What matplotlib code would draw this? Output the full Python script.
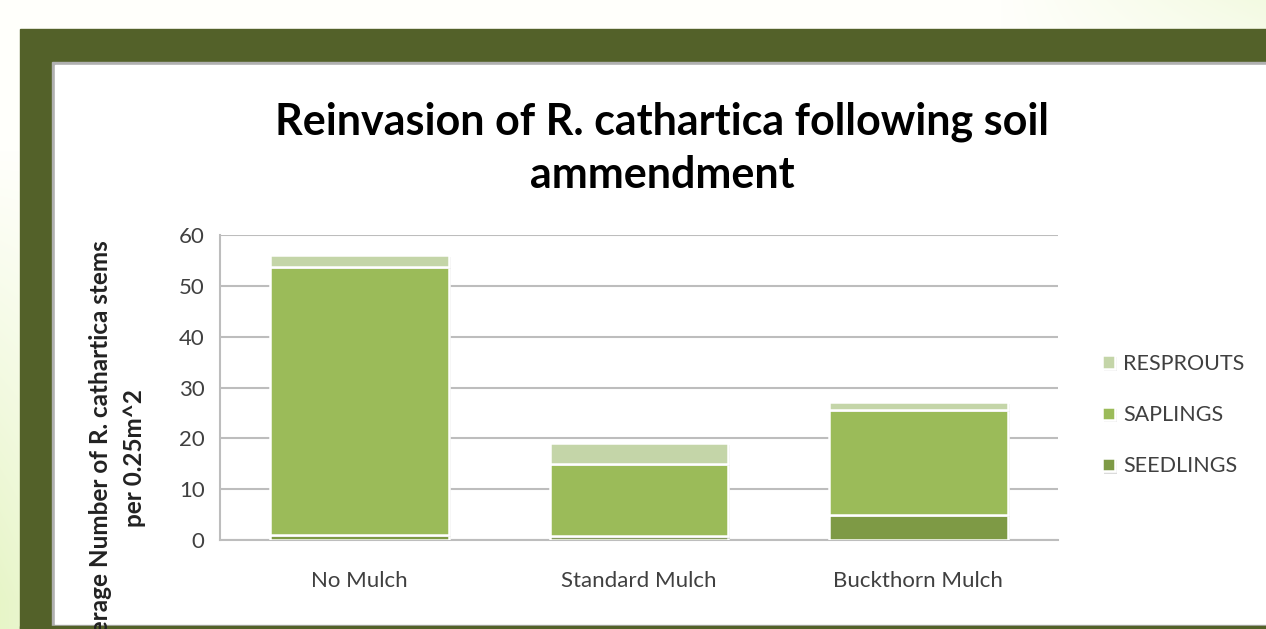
import numpy as np
import matplotlib
matplotlib.use("Agg")
import matplotlib.pyplot as plt
from matplotlib.patches import Rectangle
import matplotlib.patheffects as pe

# data
categories = ["No Mulch", "Standard Mulch", "Buckthorn Mulch"]
seedlings = [1.0, 0.7, 5.0]
saplings = [52.7, 14.3, 20.6]
resprouts = [2.3, 4.1, 1.6]
yticks = [0, 10, 20, 30, 40, 50, 60]

W, H = 1266, 629
plt.rcParams['font.family'] = ['Lato', 'DejaVu Sans']
fig = plt.figure(figsize=(W / 100, H / 100), dpi=100)

# slide background: pale cream with light green gradients
bg = fig.add_axes([0, 0, 1, 1])
bg.set_xlim(0, W)
bg.set_ylim(H, 0)
bg.axis('off')
yy, xx = np.mgrid[0:H, 0:W]
tl = np.clip((yy - 150) / 450.0, 0, 1) * np.clip(1 - xx / 200.0, 0, 1)
tr = np.clip((xx - 1000) / 266.0, 0, 1) * np.clip(1 - yy / 120.0, 0, 1) * 0.5
t = np.maximum(tl, tr)
c0 = np.array([1.0, 1.0, 0.985])
c1 = np.array([0.906, 0.961, 0.784])
img = c0[None, None, :] * (1 - t[..., None]) + c1[None, None, :] * t[..., None]
bg.imshow(img, extent=[0, W, H, 0], aspect='auto', zorder=0)
# dark olive frame and white panel
bg.add_patch(Rectangle((20, 29), W - 20, H - 29, color='#536129', zorder=1))
bg.add_patch(Rectangle((52, 62), W - 52, 564 - 1, color='#b0b0b0', zorder=2))
bg.add_patch(Rectangle((55, 65), W - 55, 560 - 1, color='white', zorder=3))

# chart area
ax = fig.add_axes([220 / W, 1 - 540 / H, (1058 - 220) / W, (540 - 235) / H])
ax.set_facecolor('none')
x = np.arange(len(categories))
width = 0.64
shadow = [pe.SimplePatchShadow(offset=(1.5, -1.5), shadow_rgbFace='#999999', alpha=0.35), pe.Normal()]

b1 = ax.bar(x, seedlings, width, color='#7e9a45', edgecolor='white', linewidth=1.8,
            label='SEEDLINGS', zorder=3)
b2 = ax.bar(x, saplings, width, bottom=seedlings, color='#9bbb59', edgecolor='white',
            linewidth=1.8, label='SAPLINGS', zorder=3)
bottom2 = [a + b for a, b in zip(seedlings, saplings)]
b3 = ax.bar(x, resprouts, width, bottom=bottom2, color='#c4d5a8', edgecolor='white',
            linewidth=1.8, label='RESPROUTS', zorder=3)
for bars in (b1, b2, b3):
    for p in bars:
        p.set_path_effects(shadow)

ax.set_xlim(-0.5, 2.5)
ax.set_ylim(0, 60)
ax.set_yticks(yticks)
ax.yaxis.grid(True, color='#bdbdbd', linewidth=1.5, zorder=0)
ax.set_axisbelow(True)
for s in ['top', 'right']:
    ax.spines[s].set_visible(False)
for s in ['left', 'bottom']:
    ax.spines[s].set_color('#bdbdbd')
    ax.spines[s].set_linewidth(1.5)
ax.tick_params(axis='both', length=0, colors='#404040', labelsize=16)
ax.tick_params(axis='y', pad=11)
ax.tick_params(axis='x', pad=22)
ax.set_xticks(x)
ax.set_xticklabels(categories)

# title
fig.text(662 / W, 1 - 122 / H, "Reinvasion of R. cathartica following soil",
         ha='center', va='center', fontsize=31, fontweight='bold', color='black')
fig.text(662 / W, 1 - 175 / H, "ammendment",
         ha='center', va='center', fontsize=31, fontweight='bold', color='black')

# y label, its start hidden behind the frame as in the original slide
fig.text(101 / W, 1 - 452 / H, "Average Number of R. cathartica stems",
         rotation=90, ha='center', va='center', fontsize=17.5, fontweight='bold',
         color='#222222')
fig.text(134 / W, 1 - 458 / H, "per 0.25m^2",
         rotation=90, ha='center', va='center', fontsize=17.5, fontweight='bold',
         color='#222222')
# redraw the frame strip over the label bottom
bg2 = fig.add_axes([0, 0, 1, 1])
bg2.set_xlim(0, W)
bg2.set_ylim(H, 0)
bg2.axis('off')
bg2.patch.set_alpha(0)
bg2.add_patch(Rectangle((52, 625), W - 52, 2, color='#b0b0b0'))
bg2.add_patch(Rectangle((20, 626), W - 20, 3, color='#536129'))

# legend
handles = [b3, b2, b1]
fig.legend(handles, [h.get_label() for h in handles], loc='center left',
           bbox_to_anchor=(1083 / W, 1 - 415 / H), frameon=False, fontsize=15.5,
           labelcolor='#404040', handlelength=0.6, handleheight=0.6,
           labelspacing=1.45, handletextpad=0.35)

fig.savefig('out.png', dpi=100)
